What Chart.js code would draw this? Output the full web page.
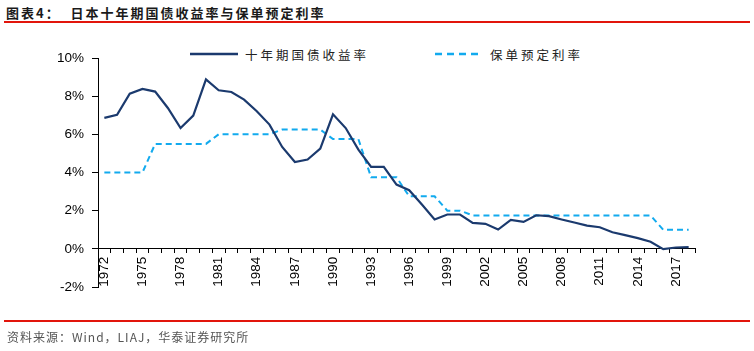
<!DOCTYPE html>
<html>
<head>
<meta charset="utf-8">
<script src="https://cdn.jsdelivr.net/npm/chart.js@4.4.0/dist/chart.umd.min.js"></script>
<style>
    html, body { margin: 0; padding: 0; background: #fff; }
    #wrap { position: relative; width: 754px; height: 351px; overflow: hidden; }
    #chart { position: absolute; left: 0; top: 0; }
    .title { position: absolute; left: 6px; top: 3px; font: bold 13px "Noto Sans CJK SC", sans-serif; color: #1a1a1a; letter-spacing: 2px; white-space: nowrap; }
    .redline { position: absolute; left: 4px; width: 746px; background: #e2150c; }
    .source { position: absolute; left: 7px; top: 328px; font: 12px "Noto Sans CJK SC", sans-serif; color: #555; letter-spacing: 1px; white-space: nowrap; }
    .legend-item { position: absolute; top: 45px; height: 18px; display: flex; align-items: center; font: 12.5px "Noto Sans CJK SC", sans-serif; color: #222; letter-spacing: 3px; white-space: nowrap; }
    .legend-item svg { margin-right: 7px; }
</style>
</head>
<body>
<div id="wrap">
    <div class="title">图表4：&nbsp;&nbsp;日本十年期国债收益率与保单预定利率</div>
    <div class="redline" style="top:21px;height:2px;"></div>
    <div class="legend-item" style="left:190px;">
        <svg width="48" height="4"><line x1="0" y1="2" x2="48" y2="2" stroke="#1b3a6e" stroke-width="2.5"/></svg>十年期国债收益率
    </div>
    <div class="legend-item" style="left:435px;">
        <svg width="48" height="4"><line x1="0" y1="2" x2="48" y2="2" stroke="#12aaee" stroke-width="2.5" stroke-dasharray="7,5"/></svg>保单预定利率
    </div>
    <canvas id="chart" width="754" height="351"></canvas>
    <div class="redline" style="top:320px;height:2px;"></div>
    <div class="source">资料来源：Wind，LIAJ，华泰证券研究所</div>
</div>
<script>
    // Years on the x axis
    const years = [];
    for (let y = 1972; y <= 2018; y++) years.push(String(y));

    // 日本十年期国债收益率 (%)
    const bondYield = [
        6.86, 7.02, 8.13, 8.38, 8.24, 7.38, 6.33, 6.98, 8.88, 8.31,
        8.22, 7.82, 7.21, 6.51, 5.34, 4.55, 4.68, 5.25, 7.05, 6.33,
        5.20, 4.29, 4.30, 3.37, 3.07, 2.32, 1.54, 1.80, 1.80, 1.36,
        1.31, 1.01, 1.52, 1.41, 1.76, 1.71, 1.54, 1.38, 1.22, 1.13,
        0.87, 0.72, 0.56, 0.37, -0.02, 0.07, 0.09
    ];

    // 保单预定利率 (%)
    const policyRate = [
        4.00, 4.00, 4.00, 4.00, 5.50, 5.50, 5.50, 5.50, 5.50, 6.00,
        6.00, 6.00, 6.00, 6.00, 6.25, 6.25, 6.25, 6.25, 5.75, 5.75,
        5.75, 3.75, 3.75, 3.75, 2.75, 2.75, 2.75, 2.00, 2.00, 1.75,
        1.75, 1.75, 1.75, 1.75, 1.75, 1.75, 1.75, 1.75, 1.75, 1.75,
        1.75, 1.75, 1.75, 1.75, 1.00, 1.00, 1.00
    ];

    const axisFont = { family: '"Liberation Sans", Arial, sans-serif', size: 13.5 };

    new Chart(document.getElementById('chart'), {
        type: 'line',
        data: {
            labels: years,
            datasets: [{
                label: '十年期国债收益率',
                data: bondYield,
                borderColor: '#1b3a6e',
                borderWidth: 2.2,
                pointRadius: 0,
                tension: 0
            }, {
                label: '保单预定利率',
                data: policyRate,
                borderColor: '#12aaee',
                borderWidth: 2,
                borderDash: [6, 4],
                pointRadius: 0,
                tension: 0
            }]
        },
        options: {
            responsive: false,
            animation: false,
            layout: {
                padding: { left: 0, top: 58, right: 59, bottom: 64 }
            },
            plugins: {
                legend: { display: false },
                tooltip: { enabled: false }
            },
            scales: {
                x: {
                    type: 'category',
                    offset: true,
                    position: { y: 0 },
                    grid: {
                        display: true,
                        drawOnChartArea: false,
                        offset: true,
                        tickLength: 4,
                        color: '#000'
                    },
                    border: { display: true, color: '#000', width: 1 },
                    ticks: {
                        autoSkip: false,
                        maxRotation: 90,
                        minRotation: 90,
                        padding: 4,
                        color: '#000',
                        font: axisFont,
                        callback: function(value, index) {
                            return (index % 3 === 0) ? years[index] : '';
                        }
                    }
                },
                y: {
                    min: -2,
                    max: 10,
                    afterFit: function(scale) { scale.width = 98; },
                    grid: {
                        display: true,
                        drawOnChartArea: false,
                        tickLength: 6,
                        color: '#000'
                    },
                    border: { display: true, color: '#000', width: 1 },
                    ticks: {
                        stepSize: 2,
                        padding: 8,
                        color: '#000',
                        font: axisFont,
                        callback: function(v) { return v + '%'; }
                    }
                }
            }
        }
    });
</script>
</body>
</html>
